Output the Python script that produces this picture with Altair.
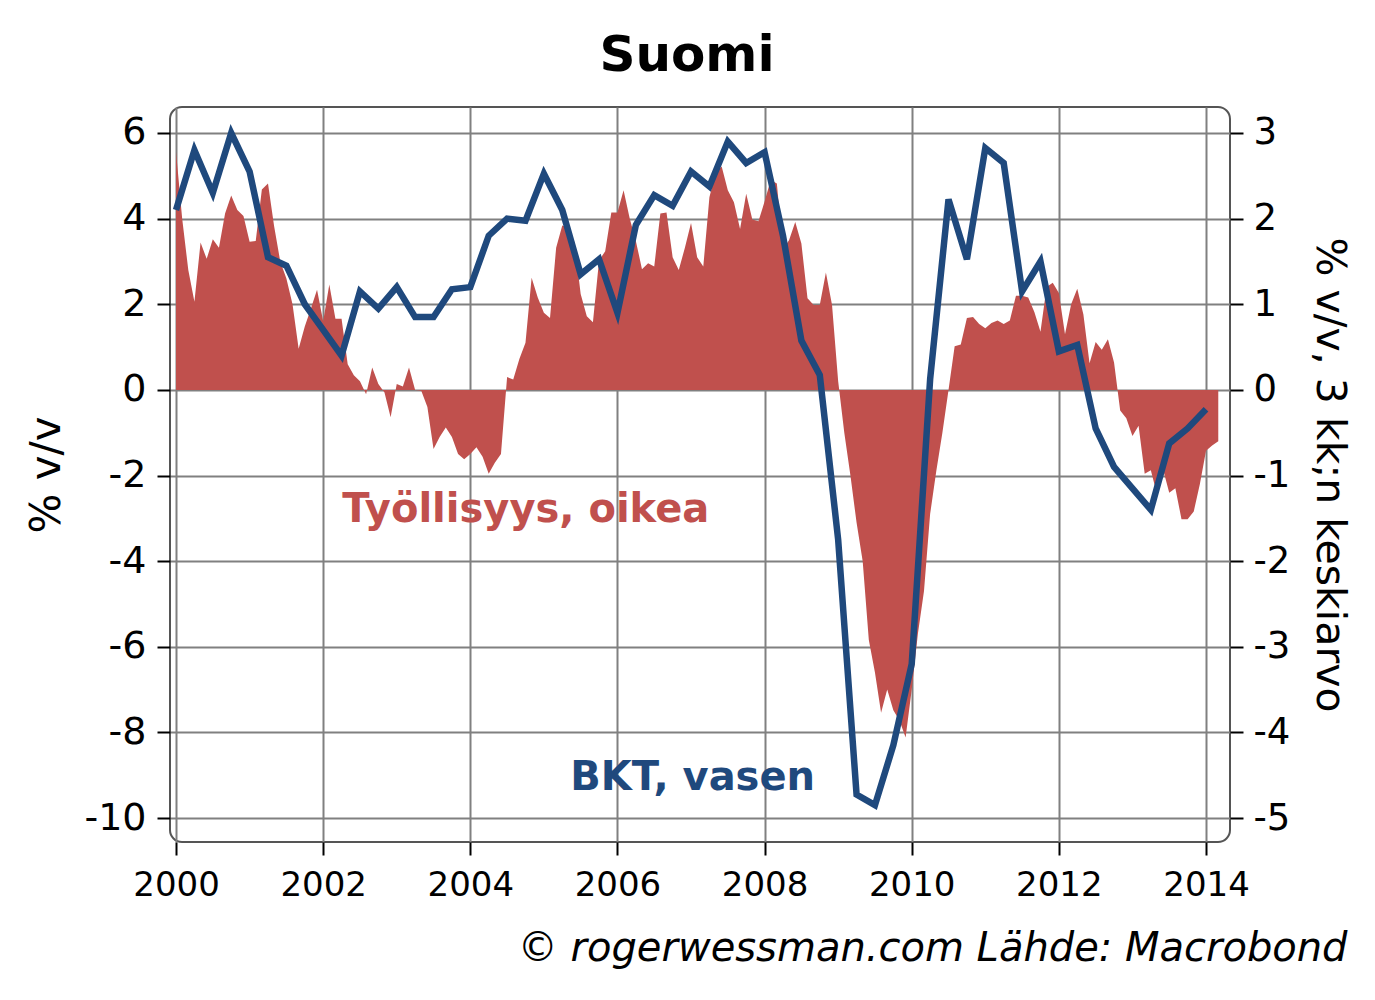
import altair as alt
import pandas as pd

# BKT (GDP) % y/y, quarterly, left axis
bkt = [4.2, 5.6, 4.6, 6.0, 5.1, 3.1, 2.9, 2.0, 1.4, 0.8,
       2.3, 1.9, 2.4, 1.7, 1.7, 2.35, 2.4, 3.6, 4.0, 3.95,
       5.05, 4.2, 2.7, 3.05, 1.8, 3.85, 4.55, 4.3, 5.1, 4.75,
       5.8, 5.3, 5.55, 3.6, 1.15, 0.35, -3.5, -9.45, -9.7, -8.3,
       -6.4, 0.25, 4.45, 3.05, 5.65, 5.3, 2.3, 3.0, 0.9, 1.05,
       -0.9, -1.8, -2.3, -2.8, -1.25, -0.9, -0.45]

# Työllisyys (employment) % y/y, 3m avg, monthly, right axis
tyo = [2.78, 2.0, 1.4, 1.03, 1.72, 1.53, 1.76, 1.66, 2.06, 2.27,
       2.1, 2.03, 1.73, 1.74, 2.34, 2.41, 1.91, 1.5, 1.3, 1.0,
       0.48, 0.74, 0.95, 1.17, 0.8, 1.23, 0.83, 0.83, 0.3, 0.17,
       0.1, -0.05, 0.26, 0.07, -0.03, -0.32, 0.07, 0.04, 0.26, 0.0,
       -0.01, -0.2, -0.69, -0.55, -0.44, -0.55, -0.75, -0.81, -0.75, -0.67,
       -0.78, -0.98, -0.85, -0.75, 0.15, 0.12, 0.36, 0.55, 1.31, 1.08,
       0.9, 0.84, 1.66, 1.92, 1.9, 1.72, 1.12, 0.86, 0.79, 1.51,
       1.62, 2.07, 2.07, 2.33, 2.0, 1.74, 1.41, 1.48, 1.44, 2.06,
       2.07, 1.55, 1.4, 1.66, 1.95, 1.55, 1.44, 2.25, 2.54, 2.61,
       2.33, 2.19, 1.88, 2.29, 1.99, 1.97, 2.2, 2.45, 2.41, 1.64,
       1.75, 1.96, 1.71, 1.07, 0.99, 0.99, 1.37, 0.99, 0.1, -0.5,
       -1.0, -1.55, -2.0, -2.92, -3.3, -3.77, -3.5, -3.74, -3.86, -4.06,
       -3.5, -2.85, -2.35, -1.45, -0.95, -0.5, 0.0, 0.51, 0.53, 0.84,
       0.85, 0.77, 0.72, 0.78, 0.81, 0.77, 0.81, 1.1, 1.1, 1.08,
       0.91, 0.68, 1.2, 1.25, 1.13, 0.65, 1.0, 1.18, 0.88, 0.31,
       0.56, 0.47, 0.59, 0.32, -0.24, -0.33, -0.54, -0.42, -0.98, -0.94,
       -1.22, -0.93, -1.2, -1.15, -1.51, -1.51, -1.42, -1.1, -0.71, -0.65,
       -0.6]

year_ticks = [2000, 2002, 2004, 2006, 2008, 2010, 2012, 2014]
left_ticks = [-10, -8, -6, -4, -2, 0, 2, 4, 6]
right_ticks = [-5, -4, -3, -2, -1, 0, 1, 2, 3]

labels_txt = ["Työllisyys, oikea", "BKT, vasen"]
labels_year = [2002.26, 2005.36]
labels_val = [-2.8, -9.07]

RED = "#C0504D"
BLUE = "#1F497D"
FONT = "DejaVu Sans"

df_bkt = pd.DataFrame({"t": [2000 + i * 0.25 for i in range(len(bkt))], "v": bkt})
df_tyo = pd.DataFrame({"t": [2000 + m / 12 for m in range(len(tyo))], "v": tyo})
df_lab = pd.DataFrame({"t": labels_year, "v": labels_val, "txt": labels_txt,
                       "c": [RED, BLUE]})

xscale = alt.Scale(domain=[1999.918, 2014.326], nice=False, zero=False)
lscale = alt.Scale(domain=[-10.56, 6.607], nice=False, zero=False)
rscale = alt.Scale(domain=[-5.28, 3.3035], nice=False, zero=False)

xaxis = alt.Axis(values=year_ticks, format="d", grid=True, gridColor="#808080",
                 gridWidth=2, domain=False, tickColor="black", tickWidth=2,
                 tickSize=13, labelFontSize=34, labelPadding=13, labelColor="black",
                 title="© rogerwessman.com Lähde: Macrobond", titleFontSize=40,
                 titleFontStyle="italic", titleFontWeight="normal",
                 titleAlign="right", titleX=1177, titleY=106,
                 titleBaseline="middle", titleColor="black")

xenc = alt.X("t:Q", scale=xscale, axis=xaxis)

area = alt.Chart(df_tyo).mark_area(color=RED, opacity=1).encode(
    x=xenc,
    y=alt.Y("v:Q", scale=rscale, stack=None,
            axis=alt.Axis(orient="right", values=right_ticks, grid=False,
                          domain=False, tickColor="black", tickWidth=2,
                          tickSize=13, labelFontSize=37, labelPadding=10,
                          labelColor="black", labelExpr="'' + datum.value",
                          title="% v/v, 3 kk;n keskiarvo", titleFontSize=41,
                          titleFontWeight="normal", titleAngle=90,
                          titleX=98, titleBaseline="middle", titleColor="black")),
    y2=alt.datum(0),
)

line = alt.Chart(df_bkt).mark_line(color=BLUE, strokeWidth=6.5).encode(
    x=xenc,
    y=alt.Y("v:Q", scale=lscale,
            axis=alt.Axis(orient="left", values=left_ticks, grid=True,
                          gridColor="#808080", gridWidth=2, domain=False,
                          tickColor="black", tickWidth=2, tickSize=13,
                          labelFontSize=38, labelPadding=11, labelColor="black",
                          labelExpr="'' + datum.value",
                          title="% v/v", titleFontSize=42,
                          titleFontWeight="normal", titleAngle=-90,
                          titleX=-124, titleBaseline="middle",
                          titleColor="black")),
)

labels = alt.Chart(df_lab).mark_text(align="left", baseline="middle",
                                     fontSize=40, fontWeight="bold",
                                     font=FONT).encode(
    x=xenc,
    y=alt.Y("v:Q", scale=lscale, axis=None),
    text="txt:N",
    color=alt.Color("c:N", scale=None),
)

chart = alt.layer(area, line, labels).resolve_scale(y="independent").properties(
    width=1060,
    height=735,
    padding={"left": 162, "top": 99, "right": 137, "bottom": 150},
    autosize=alt.AutoSizeParams(type="none"),
    view=alt.ViewBackground(stroke="#555555", strokeWidth=2, cornerRadius=12),
    title=alt.TitleParams("Suomi", fontSize=50, fontWeight="bold", font=FONT,
                          anchor="middle", offset=26, dx=-13, color="black"),
).configure_view(
    stroke="#555555", strokeWidth=2, cornerRadius=12
).configure(font=FONT)

chart.save("out.html", embed_options={"renderer": "svg", "actions": False})
